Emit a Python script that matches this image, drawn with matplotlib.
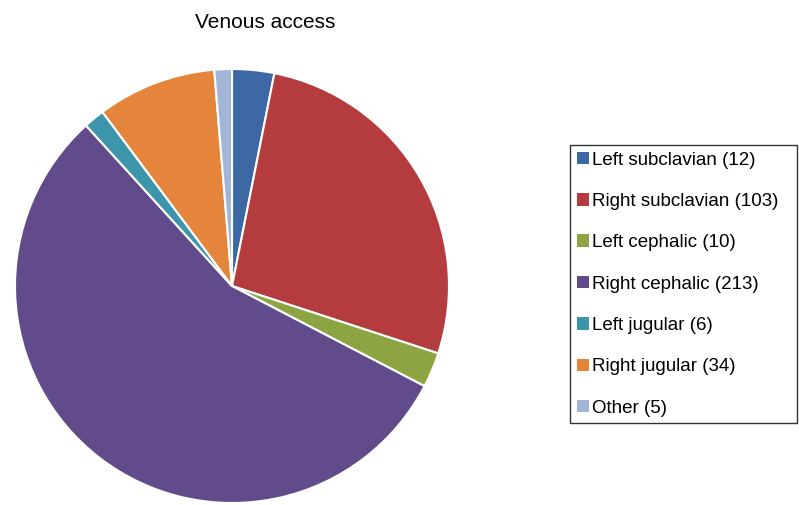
import matplotlib.pyplot as plt

# Venous access counts
labels = ['Left subclavian', 'Right subclavian', 'Left cephalic', 'Right cephalic',
          'Left jugular', 'Right jugular', 'Other']
counts = [12, 103, 10, 213, 6, 34, 5]
colors = ['#3C69A4', '#B43C3E', '#8CA441', '#624B8A', '#3C95AA', '#E5853B', '#A3B5D6']

plt.rcParams['font.family'] = ['Liberation Sans', 'DejaVu Sans']

fig = plt.figure(figsize=(7.99, 5.05), dpi=100)

# pie placed by pixels: centre (232, 286), radius ~217
ax = fig.add_axes([15 / 799, 2 / 505, 434 / 799, 434 / 505])
wedges, _ = ax.pie(counts, colors=colors, startangle=90, counterclock=False,
                   wedgeprops=dict(edgecolor='white', linewidth=1.5))
ax.set_xlim(-1.0, 1.0)
ax.set_ylim(-1.0, 1.0)
ax.set_aspect('equal')

fig.text(265 / 799, 1 - 23 / 505, 'Venous access', ha='center', va='center', fontsize=15)

legend_labels = [f'{l} ({c})' for l, c in zip(labels, counts)]
# box spans x 570..797, top at y 145 (pixels)
leg = fig.legend(wedges, legend_labels, loc='upper left', mode='expand',
                 bbox_to_anchor=(570 / 799, 1 - 423 / 505, 227 / 799, 278 / 505),
                 fontsize=13.5, frameon=True, fancybox=False, shadow=False,
                 handlelength=0.65, handleheight=0.65, handletextpad=0.15,
                 labelspacing=1.3, borderpad=0.35, borderaxespad=0)
leg.get_frame().set_edgecolor('black')
leg.get_frame().set_linewidth(1.0)
for h in leg.legend_handles:
    h.set_edgecolor('none')

fig.savefig('out.png', dpi=100)
